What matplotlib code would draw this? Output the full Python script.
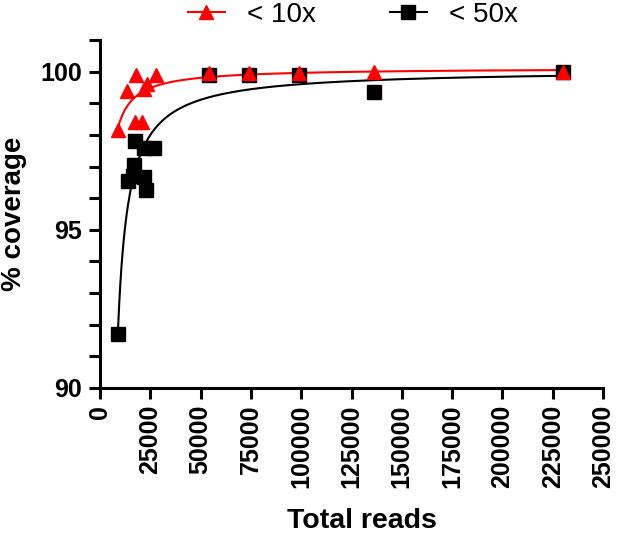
import numpy as np
import matplotlib.pyplot as plt
from matplotlib.ticker import MultipleLocator

# data
reads_10x = [9000, 13200, 17900, 27800, 22000, 23500, 17400, 20700, 54000, 74000, 99000, 136000, 230000]
cov_10x = [98.15, 99.4, 99.9, 99.9, 99.45, 99.6, 98.4, 98.4, 99.95, 99.95, 99.95, 99.98, 99.98]

reads_50x = [9000, 13700, 17000, 17400, 22000, 22000, 22800, 26900, 16500, 54000, 74000, 99000, 136000, 230000]
cov_50x = [91.7, 96.55, 97.05, 97.8, 97.6, 96.67, 96.25, 97.6, 96.7, 99.9, 99.9, 99.9, 99.35, 99.98]

plt.rcParams['font.family'] = ['Liberation Sans', 'DejaVu Sans']


def hyper_fit(x, y):
    # y = a - b / (x - c), least squares, c by grid search
    x = np.asarray(x, float)
    y = np.asarray(y, float)
    best = None
    for c in np.linspace(0, 0.97 * x.min(), 300):
        A = np.column_stack([np.ones_like(x), -1.0 / (x - c)])
        p, *_ = np.linalg.lstsq(A, y, rcond=None)
        err = np.sum((A @ p - y) ** 2)
        if best is None or err < best[0]:
            best = (err, p[0], p[1], c)
    return best[1:]


fig = plt.figure(figsize=(6.33, 5.34), dpi=100)
ax = fig.add_axes([100 / 633, 1 - 388 / 534, 503 / 633, 348 / 534])

handles = []
for xs, ys, col, mk, lab in [(reads_10x, cov_10x, 'red', '^', '< 10x'),
                             (reads_50x, cov_50x, 'black', 's', '< 50x')]:
    a, b, c = hyper_fit(xs, ys)
    xx = np.linspace(min(xs), max(xs), 400)
    ax.plot(xx, a - b / (xx - c), color=col, lw=1.5, zorder=2)
    ax.plot(xs, ys, ls='none', marker=mk, ms=10, color=col, zorder=3 if col == 'red' else 2.5)
    h, = ax.plot([], [], color=col, lw=1.5, marker=mk, ms=10, label=lab)
    handles.append(h)

ax.set_xlim(0, 250000)
ax.set_ylim(90, 101)
ax.xaxis.set_major_locator(MultipleLocator(25000))
ax.yaxis.set_minor_locator(MultipleLocator(1))
ax.set_yticks([90, 95, 100])

for s in ['top', 'right']:
    ax.spines[s].set_visible(False)
for s in ['left', 'bottom']:
    ax.spines[s].set_linewidth(2.2)
ax.tick_params(which='both', width=2.2, length=8, labelsize=18)
ax.tick_params(axis='y', pad=5)
ax.tick_params(axis='x', labelrotation=90, pad=4)
for t in ax.get_xticklabels() + ax.get_yticklabels():
    t.set_fontweight('bold')

ax.set_xlabel('Total reads', fontsize=20.5, fontweight='bold')
ax.set_ylabel('% coverage', fontsize=20, fontweight='bold')
ax.yaxis.set_label_coords(-0.145, 0.5)
ax.xaxis.set_label_coords(0.52, -0.345)

fig.legend(handles=handles, loc='center left', bbox_to_anchor=(188 / 633, 1 - 15 / 534),
           ncol=2, frameon=False, fontsize=20, handlelength=1.33, handletextpad=0.8,
           columnspacing=2.66, borderpad=0, borderaxespad=0)

fig.savefig('out.png', dpi=100)
